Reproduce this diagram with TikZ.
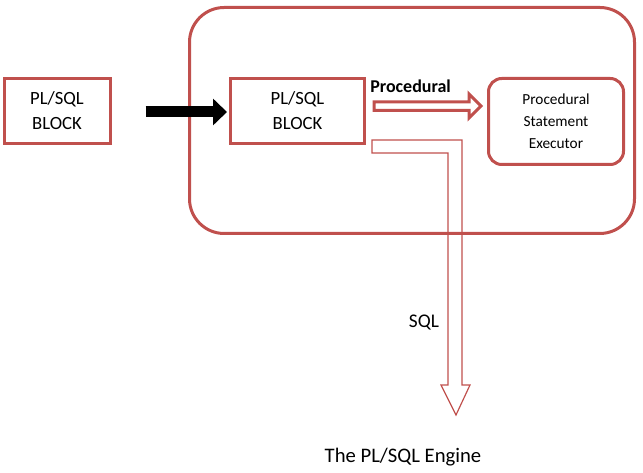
\documentclass[tikz,border=0pt]{standalone}
\usepackage{fontspec}
\setmainfont{Carlito}
\usetikzlibrary{calc,arrows.meta}
\definecolor{boxred}{HTML}{C0504D}
\begin{document}
\begin{tikzpicture}[x=0.75pt,y=-0.75pt,>={Triangle[length=10.5pt,width=19.5pt]},
	blk/.style={draw=boxred,line width=2.25pt,align=center,inner sep=0pt,minimum height=48.75pt,font=\fontsize{14}{18.75}\selectfont},
	hollow/.style={draw=boxred,line width=2.25pt,line join=miter},
	thinarrow/.style={draw=boxred,line width=0.9pt,line join=miter}]
	\useasboundingbox (0,0) rectangle (643,473);
	\node[draw=boxred,line width=2.25pt,rounded corners=26pt,minimum width=333.75pt,minimum height=169.5pt] (engine) at (412,120.5) {};
	\foreach \n/\x/\w in {plblock/57/106,inblock/297.5/134}
		\node[blk,minimum width=\w*0.75pt] (\n) at (\x,111) {PL/SQL\\BLOCK};
	\node[blk,rounded corners=10pt,minimum width=101.25pt,minimum height=64.5pt,font=\fontsize{11.5}{16.5}\selectfont] (executor) at (556,121.5) {Procedural\\Statement\\Executor};
	\draw[->,line width=8.25pt] ($(plblock.east)+(34,1)$) -- ($(inblock.west)+(-2,1)$);
	% procedural block arrow
	\coordinate (procstart) at ($(inblock.east)+(8,-5)$);
	\draw[hollow] ($(procstart)+(0,-4)$) -- ++(95,0) -- ++(0,-8) -- ($(executor.west)+(-6,-15.5)$) -- ($(procstart)+(95,12)$) -- ++(0,-7.5) -- ($(procstart)+(0,4.5)$) -- cycle;
	\node[anchor=base west,inner sep=0pt,font=\fontsize{13.5}{16}\selectfont\bfseries] (proclabel) at (370,93) {Procedural};
	% sql block arrow
	\coordinate (sqlstart) at ($(inblock.south east)+(6,-5)$);
	\draw[thinarrow] (sqlstart) -- ++(90,0) -- ++(0,245) -- ++(8,0) -- ++(-14,30) -- ++(-15,-30) -- ++(7,0) -- ++(0,-232) -- ++(-76,0) -- cycle;
	\node[font=\fontsize{14.5}{17}\selectfont] (sqllabel) at (424,323) {SQL};
	\node[font=\fontsize{15.5}{18}\selectfont] (title) at (403,457) {The PL/SQL Engine};
\end{tikzpicture}
\end{document}
